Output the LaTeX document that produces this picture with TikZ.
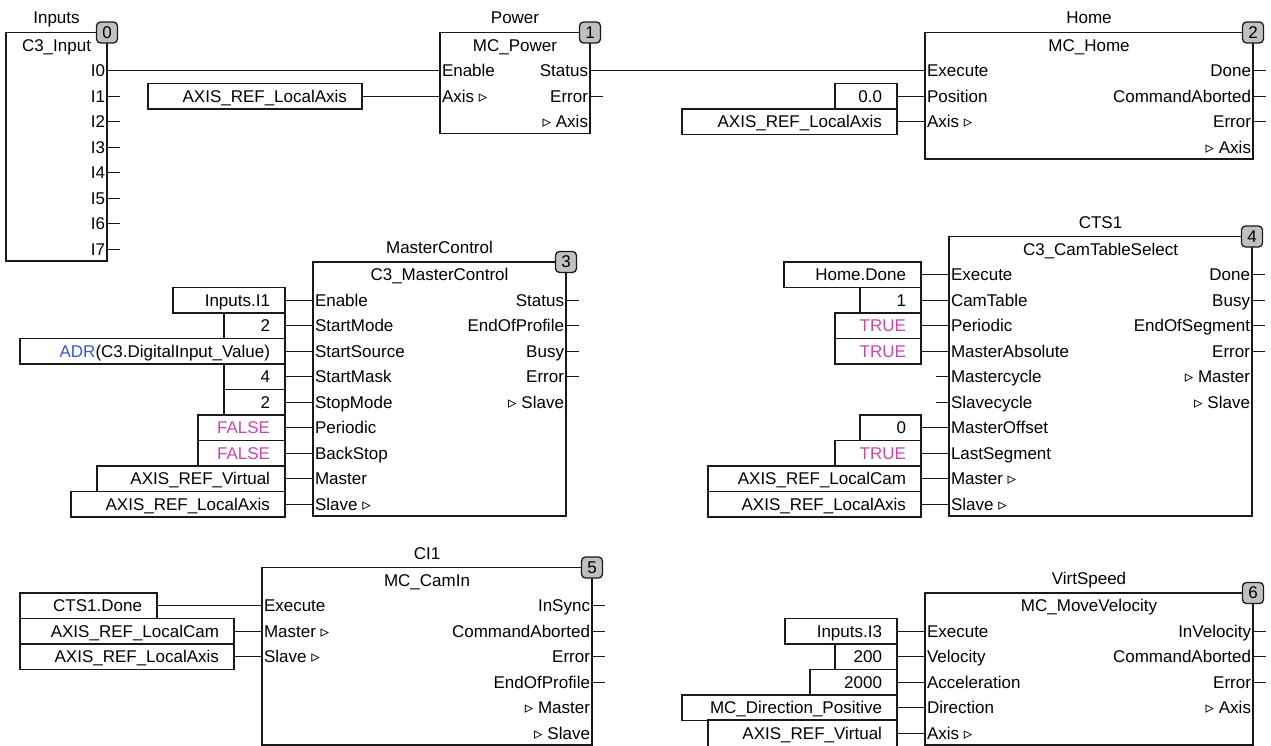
\documentclass[tikz,border=0pt]{standalone}
\usepackage{fontspec}
\setmainfont{Liberation Sans}
\newfontfamily\symfont{DejaVu Sans}
\usepackage{tikz}
\usetikzlibrary{positioning}
\definecolor{wirec}{RGB}{25,25,25}
\definecolor{boolc}{RGB}{200,70,170}
\definecolor{opc}{RGB}{51,90,204}
\definecolor{badgebg}{RGB}{192,192,192}
\newcommand{\ioarrow}{{\symfont\fontsize{17}{17}\selectfont ▹}}

\begin{document}
\begin{tikzpicture}[
        x=1pt, y=-1pt, node distance=0pt,
        font=\fontsize{17}{20}\selectfont,
        every node/.style={outer sep=0pt},
        fb/.style={draw=wirec, line width=1.3pt, rectangle, anchor=north west, inner sep=0pt},
        badge/.style={draw=wirec, fill=badgebg, rounded corners=4pt, line width=1.3pt, minimum width=21pt, minimum height=21pt, inner sep=0pt},
        iname/.style={inner sep=0pt, anchor=base},
        tname/.style={inner sep=0pt, anchor=north, minimum height=25.5pt, text height=12pt, text depth=0pt},
        inpin/.style={anchor=north west, inner xsep=2pt, inner ysep=0pt, minimum height=25.5pt, text height=12pt, text depth=0pt},
        outpin/.style={anchor=north east, inner xsep=2pt, inner ysep=0pt, minimum height=25.5pt, text height=12pt, text depth=0pt},
        cst/.style={draw=wirec, line width=1.3pt, inner xsep=15pt, inner ysep=0pt, minimum height=25.5pt, text height=12pt, text depth=0pt, align=flush right},
        wire/.style={draw=wirec, line width=1.4pt},
        pin distance=13pt,
        every pin/.style={inner sep=0pt, minimum size=0pt},
        every pin edge/.style={draw=wirec, line width=1.4pt},
        stubr/.style={pin={right:{}}},
        stubl/.style={pin={left:{}}}
    ]
    \useasboundingbox (0,0) rectangle (1271,746);
    \clip (0,0) rectangle (1271,746);

    % Inputs
    \node[fb, minimum width=101pt, minimum height=228.5pt] (inp) at (6,32.5) {};
    \node[above=8.5pt of inp.north, iname] (inp-n) {Inputs};
    \node[below=of inp.north, tname] (inp-t) {C3\_Input};
    \node[below=25.5pt of inp.north east, outpin] (i0) {I0};
    \node[below=of i0.south east, outpin, stubr] (i1) {I1};
    \node[below=of i1.south east, outpin, stubr] (i2) {I2};
    \node[below=of i2.south east, outpin, stubr] (i3) {I3};
    \node[below=of i3.south east, outpin, stubr] (i4) {I4};
    \node[below=of i4.south east, outpin, stubr] (i5) {I5};
    \node[below=of i5.south east, outpin, stubr] (i6) {I6};
    \node[below=of i6.south east, outpin, stubr] (i7) {I7};
    \node[badge] (inp-b) at (inp.north east) {0};

    % Power
    \node[fb, minimum width=150pt, minimum height=101pt] (pw) at (440,32.5) {};
    \node[above=8.5pt of pw.north, iname] (pw-n) {Power};
    \node[below=of pw.north, tname] (pw-t) {MC\_Power};
    \node[below=25.5pt of pw.north west, inpin] (pw-en) {Enable};
    \node[below=of pw-en.south west, inpin] (pw-ax) {Axis \ioarrow};
    \node[below=25.5pt of pw.north east, outpin] (pw-st) {Status};
    \node[below=of pw-st.south east, outpin, stubr] (pw-er) {Error};
    \node[below=of pw-er.south east, outpin] (pw-ao) {\ioarrow{} Axis};
    \node[badge] (pw-b) at (pw.north east) {1};
    \node[cst, text width=184pt, left=78pt of pw-ax.west] (pw-c1) {AXIS\_REF\_LocalAxis};
    \draw[wire] (i0) -- (pw-en);
    \draw[wire] (pw-c1) -- (pw-ax);

    % Home
    \node[fb, minimum width=328pt, minimum height=126.5pt] (hm) at (925,32.5) {};
    \node[above=8.5pt of hm.north, iname] (hm-n) {Home};
    \node[below=of hm.north, tname] (hm-t) {MC\_Home};
    \node[below=25.5pt of hm.north west, inpin] (hm-ex) {Execute};
    \node[below=of hm-ex.south west, inpin] (hm-po) {Position};
    \node[below=of hm-po.south west, inpin] (hm-ax) {Axis \ioarrow};
    \node[below=25.5pt of hm.north east, outpin, stubr] (hm-dn) {Done};
    \node[below=of hm-dn.south east, outpin, stubr] (hm-ca) {CommandAborted};
    \node[below=of hm-ca.south east, outpin, stubr] (hm-er) {Error};
    \node[below=of hm-er.south east, outpin] (hm-ao) {\ioarrow{} Axis};
    \node[badge] (hm-b) at (hm.north east) {2};
    \node[cst, text width=32pt, left=28pt of hm-po.west] (hm-c1) {0.0};
    \node[cst, text width=185pt, left=28pt of hm-ax.west] (hm-c2) {AXIS\_REF\_LocalAxis};
    \draw[wire] (pw-st) -- (hm-ex);
    \draw[wire] (hm-c1) -- (hm-po);
    \draw[wire] (hm-c2) -- (hm-ax);

    % MasterControl
    \node[fb, minimum width=253pt, minimum height=254pt] (mc) at (313,262) {};
    \node[above=8.5pt of mc.north, iname] (mc-n) {MasterControl};
    \node[below=of mc.north, tname] (mc-t) {C3\_MasterControl};
    \node[below=25.5pt of mc.north west, inpin] (mc-en) {Enable};
    \node[below=of mc-en.south west, inpin] (mc-sm) {StartMode};
    \node[below=of mc-sm.south west, inpin] (mc-ss) {StartSource};
    \node[below=of mc-ss.south west, inpin] (mc-sk) {StartMask};
    \node[below=of mc-sk.south west, inpin] (mc-pm) {StopMode};
    \node[below=of mc-pm.south west, inpin] (mc-pe) {Periodic};
    \node[below=of mc-pe.south west, inpin] (mc-bs) {BackStop};
    \node[below=of mc-bs.south west, inpin] (mc-ma) {Master};
    \node[below=of mc-ma.south west, inpin] (mc-sl) {Slave \ioarrow};
    \node[below=25.5pt of mc.north east, outpin, stubr] (mc-st) {Status};
    \node[below=of mc-st.south east, outpin, stubr] (mc-ep) {EndOfProfile};
    \node[below=of mc-ep.south east, outpin, stubr] (mc-bu) {Busy};
    \node[below=of mc-bu.south east, outpin, stubr] (mc-er) {Error};
    \node[below=of mc-er.south east, outpin] (mc-so) {\ioarrow{} Slave};
    \node[badge] (mc-b) at (mc.north east) {3};
    \node[cst, text width=82pt, left=28pt of mc-en.west] (mc-c1) {Inputs.I1};
    \node[cst, text width=31pt, left=28pt of mc-sm.west] (mc-c2) {2};
    \node[cst, text width=235pt, left=28pt of mc-ss.west] (mc-c3) {\textcolor{opc}{ADR}(C3.DigitalInput\_Value)};
    \node[cst, text width=31pt, left=28pt of mc-sk.west] (mc-c4) {4};
    \node[cst, text width=31pt, left=28pt of mc-pm.west] (mc-c5) {2};
    \node[cst, text width=57pt, left=28pt of mc-pe.west] (mc-c6) {\textcolor{boolc}{FALSE}};
    \node[cst, text width=57pt, left=28pt of mc-bs.west] (mc-c7) {\textcolor{boolc}{FALSE}};
    \node[cst, text width=158pt, left=28pt of mc-ma.west] (mc-c8) {AXIS\_REF\_Virtual};
    \node[cst, text width=184pt, left=28pt of mc-sl.west] (mc-c9) {AXIS\_REF\_LocalAxis};
    \draw[wire] (mc-c1) -- (mc-en); \draw[wire] (mc-c2) -- (mc-sm); \draw[wire] (mc-c3) -- (mc-ss);
    \draw[wire] (mc-c4) -- (mc-sk); \draw[wire] (mc-c5) -- (mc-pm); \draw[wire] (mc-c6) -- (mc-pe);
    \draw[wire] (mc-c7) -- (mc-bs); \draw[wire] (mc-c8) -- (mc-ma); \draw[wire] (mc-c9) -- (mc-sl);

    % CTS1
    \node[fb, minimum width=303pt, minimum height=279.5pt] (ct) at (949,236.5) {};
    \node[above=8.5pt of ct.north, iname] (ct-n) {CTS1};
    \node[below=of ct.north, tname] (ct-t) {C3\_CamTableSelect};
    \node[below=25.5pt of ct.north west, inpin] (ct-ex) {Execute};
    \node[below=of ct-ex.south west, inpin] (ct-tb) {CamTable};
    \node[below=of ct-tb.south west, inpin] (ct-pe) {Periodic};
    \node[below=of ct-pe.south west, inpin] (ct-ab) {MasterAbsolute};
    \node[below=of ct-ab.south west, inpin, stubl] (ct-mc) {Mastercycle};
    \node[below=of ct-mc.south west, inpin, stubl] (ct-sc) {Slavecycle};
    \node[below=of ct-sc.south west, inpin] (ct-mo) {MasterOffset};
    \node[below=of ct-mo.south west, inpin] (ct-ls) {LastSegment};
    \node[below=of ct-ls.south west, inpin] (ct-ma) {Master \ioarrow};
    \node[below=of ct-ma.south west, inpin] (ct-sl) {Slave \ioarrow};
    \node[below=25.5pt of ct.north east, outpin, stubr] (ct-dn) {Done};
    \node[below=of ct-dn.south east, outpin, stubr] (ct-bu) {Busy};
    \node[below=of ct-bu.south east, outpin, stubr] (ct-es) {EndOfSegment};
    \node[below=of ct-es.south east, outpin, stubr] (ct-er) {Error};
    \node[below=of ct-er.south east, outpin] (ct-mo2) {\ioarrow{} Master};
    \node[below=of ct-mo2.south east, outpin] (ct-so) {\ioarrow{} Slave};
    \node[badge] (ct-b) at (ct.north east) {4};
    \node[cst, text width=107pt, left=28pt of ct-ex.west] (ct-c1) {Home.Done};
    \node[cst, text width=31pt, left=28pt of ct-tb.west] (ct-c2) {1};
    \node[cst, text width=56pt, left=28pt of ct-pe.west] (ct-c3) {\textcolor{boolc}{TRUE}};
    \node[cst, text width=56pt, left=28pt of ct-ab.west] (ct-c4) {\textcolor{boolc}{TRUE}};
    \node[cst, text width=31pt, left=28pt of ct-mo.west] (ct-c5) {0};
    \node[cst, text width=56pt, left=28pt of ct-ls.west] (ct-c6) {\textcolor{boolc}{TRUE}};
    \node[cst, text width=183pt, left=28pt of ct-ma.west] (ct-c7) {AXIS\_REF\_LocalCam};
    \node[cst, text width=183pt, left=28pt of ct-sl.west] (ct-c8) {AXIS\_REF\_LocalAxis};
    \draw[wire] (ct-c1) -- (ct-ex); \draw[wire] (ct-c2) -- (ct-tb); \draw[wire] (ct-c3) -- (ct-pe);
    \draw[wire] (ct-c4) -- (ct-ab); \draw[wire] (ct-c5) -- (ct-mo); \draw[wire] (ct-c6) -- (ct-ls);
    \draw[wire] (ct-c7) -- (ct-ma); \draw[wire] (ct-c8) -- (ct-sl);

    % CI1
    \node[fb, minimum width=330pt, minimum height=177.5pt] (ci) at (262,567.5) {};
    \node[above=8.5pt of ci.north, iname] (ci-n) {CI1};
    \node[below=of ci.north, tname] (ci-t) {MC\_CamIn};
    \node[below=25.5pt of ci.north west, inpin] (ci-ex) {Execute};
    \node[below=of ci-ex.south west, inpin] (ci-ma) {Master \ioarrow};
    \node[below=of ci-ma.south west, inpin] (ci-sl) {Slave \ioarrow};
    \node[below=25.5pt of ci.north east, outpin, stubr] (ci-is) {InSync};
    \node[below=of ci-is.south east, outpin, stubr] (ci-ca) {CommandAborted};
    \node[below=of ci-ca.south east, outpin, stubr] (ci-er) {Error};
    \node[below=of ci-er.south east, outpin, stubr] (ci-ep) {EndOfProfile};
    \node[below=of ci-ep.south east, outpin] (ci-mo) {\ioarrow{} Master};
    \node[below=of ci-mo.south east, outpin] (ci-so) {\ioarrow{} Slave};
    \node[badge] (ci-b) at (ci.north east) {5};
    \node[cst, text width=107pt, left=105pt of ci-ex.west] (ci-c1) {CTS1.Done};
    \node[cst, text width=184pt, left=28pt of ci-ma.west] (ci-c2) {AXIS\_REF\_LocalCam};
    \node[cst, text width=184pt, left=28pt of ci-sl.west] (ci-c3) {AXIS\_REF\_LocalAxis};
    \draw[wire] (ci-c1) -- (ci-ex); \draw[wire] (ci-c2) -- (ci-ma); \draw[wire] (ci-c3) -- (ci-sl);

    % VirtSpeed
    \node[fb, minimum width=328pt, minimum height=152pt] (vs) at (925,593) {};
    \node[above=8.5pt of vs.north, iname] (vs-n) {VirtSpeed};
    \node[below=of vs.north, tname] (vs-t) {MC\_MoveVelocity};
    \node[below=25.5pt of vs.north west, inpin] (vs-ex) {Execute};
    \node[below=of vs-ex.south west, inpin] (vs-ve) {Velocity};
    \node[below=of vs-ve.south west, inpin] (vs-ac) {Acceleration};
    \node[below=of vs-ac.south west, inpin] (vs-di) {Direction};
    \node[below=of vs-di.south west, inpin] (vs-ax) {Axis \ioarrow};
    \node[below=25.5pt of vs.north east, outpin, stubr] (vs-iv) {InVelocity};
    \node[below=of vs-iv.south east, outpin, stubr] (vs-ca) {CommandAborted};
    \node[below=of vs-ca.south east, outpin, stubr] (vs-er) {Error};
    \node[below=of vs-er.south east, outpin] (vs-ao) {\ioarrow{} Axis};
    \node[badge] (vs-b) at (vs.north east) {6};
    \node[cst, text width=82pt, left=28pt of vs-ex.west] (vs-c1) {Inputs.I3};
    \node[cst, text width=32pt, left=28pt of vs-ve.west] (vs-c2) {200};
    \node[cst, text width=57pt, left=28pt of vs-ac.west] (vs-c3) {2000};
    \node[cst, text width=185pt, left=28pt of vs-di.west] (vs-c4) {MC\_Direction\_Positive};
    \node[cst, text width=159pt, minimum height=28pt, left=28pt of vs-ax.west] (vs-c5) {AXIS\_REF\_Virtual};
    \draw[wire] (vs-c1) -- (vs-ex); \draw[wire] (vs-c2) -- (vs-ve); \draw[wire] (vs-c3) -- (vs-ac);
    \draw[wire] (vs-c4) -- (vs-di); \draw[wire] (vs-c5) -- (vs-ax);

\end{tikzpicture}
\end{document}
